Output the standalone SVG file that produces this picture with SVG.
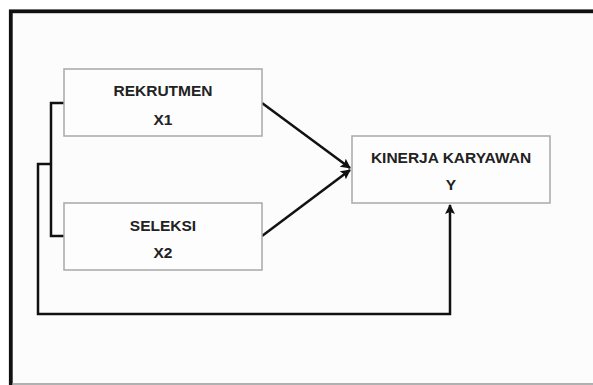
<svg xmlns="http://www.w3.org/2000/svg" width="593" height="385" viewBox="0 0 593 385">
<style>
  .box { fill: #fdfdfd; stroke: #a8a8a8; stroke-width: 1.5; }
  .lbl { font-family: "Liberation Sans", Arial, sans-serif; font-weight: bold; font-size: 15.5px; fill: #222; text-anchor: middle; }
  .conn { fill: none; stroke: #111; stroke-width: 2.5; }
</style>
<defs>
  <marker id="arr" viewBox="0 0 10 10" refX="9" refY="5" markerWidth="4" markerHeight="4" orient="auto" markerUnits="strokeWidth">
    <path d="M0,0 L10,5 L0,10 L2,5 Z" fill="#111"/>
  </marker>
</defs>
<rect x="0" y="0" width="593" height="385" fill="#ffffff"/>
<rect x="10.8" y="11.3" width="600" height="400" fill="#fcfcfc" stroke="#111" stroke-width="3.8"/>
<line x1="12" y1="384" x2="593" y2="384" stroke="#999" stroke-width="1.5"/>
<g id="connectors">
  <path class="conn" d="M64,103 H51 V236 H64"/>
  <path class="conn" d="M51,164 H38 V314 H450 V205" marker-end="url(#arr)"/>
  <path class="conn" d="M262,103 L350,168" marker-end="url(#arr)"/>
  <path class="conn" d="M262,236 L350,170" marker-end="url(#arr)"/>
</g>
<g id="rekrutmen">
  <rect class="box" x="64" y="69" width="198" height="67"/>
  <text class="lbl" x="163" y="96">REKRUTMEN</text>
  <text class="lbl" x="163" y="125">X1</text>
</g>
<g id="seleksi">
  <rect class="box" x="64" y="203" width="198" height="67"/>
  <text class="lbl" x="163" y="231">SELEKSI</text>
  <text class="lbl" x="163" y="258">X2</text>
</g>
<g id="kinerja">
  <rect class="box" x="352" y="136" width="198" height="67"/>
  <text class="lbl" x="451" y="163">KINERJA KARYAWAN</text>
  <text class="lbl" x="451" y="190">Y</text>
</g>
</svg>
